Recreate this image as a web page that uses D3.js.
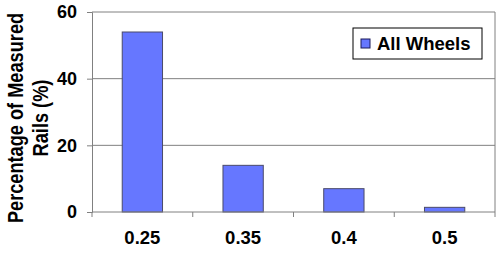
<!DOCTYPE html>
<html>
<head>
<meta charset="utf-8">
<script src="https://cdn.jsdelivr.net/npm/d3@7"></script>
<style>
  body { margin: 0; background: #fff; }
  text { font-family: Arial, "Liberation Sans", sans-serif; font-weight: bold; }
</style>
</head>
<body>
<svg id="main" width="500" height="255"></svg>
<script>
// chart values
var categories = ["0.25", "0.35", "0.4", "0.5"];
var percents = [54, 14, 7, 1.4];
var yTicks = [0, 20, 40, 60];
var seriesName = "All Wheels";

var plotLeft = 92, plotRight = 495, plotTop = 12, plotBottom = 212;

var svg = d3.select("#main");

var x = d3.scaleBand()
    .domain(categories)
    .range([plotLeft, plotRight])
    .paddingInner(0.6)
    .paddingOuter(0.3);

var y = d3.scaleLinear()
    .domain([0, 60])
    .range([plotBottom, plotTop]);

// gridlines
svg.append("g")
    .selectAll("line")
    .data(yTicks.filter(function(d) { return d > 0; }))
    .join("line")
    .attr("x1", plotLeft)
    .attr("x2", plotRight)
    .attr("y1", function(d) { return y(d); })
    .attr("y2", function(d) { return y(d); })
    .attr("stroke", "#808080")
    .attr("stroke-width", 1);

// right border
svg.append("line")
    .attr("x1", plotRight).attr("x2", plotRight)
    .attr("y1", plotTop).attr("y2", plotBottom)
    .attr("stroke", "#808080");

// bars
svg.append("g")
    .selectAll("rect")
    .data(percents)
    .join("rect")
    .attr("x", function(d, i) { return x(categories[i]); })
    .attr("y", function(d) { return y(d); })
    .attr("width", x.bandwidth())
    .attr("height", function(d) { return plotBottom - y(d); })
    .attr("fill", "#6677ff")
    .attr("stroke", "#4a4a6a")
    .attr("stroke-width", 1);

// y axis
var yAxis = svg.append("g")
    .attr("transform", "translate(" + plotLeft + ",0)")
    .call(d3.axisLeft(y).tickValues(yTicks).tickSize(5).tickPadding(10));
yAxis.select(".domain").attr("stroke", "#808080");
yAxis.selectAll(".tick line").attr("stroke", "#808080");
yAxis.selectAll(".tick text")
    .attr("font-size", "18px")
    .attr("font-family", "Arial, 'Liberation Sans', sans-serif")
    .attr("font-weight", "bold")
    .attr("fill", "#000");

// x axis with ticks between categories
var xAxis = svg.append("g")
    .attr("transform", "translate(0," + plotBottom + ")");
xAxis.append("line")
    .attr("x1", plotLeft).attr("x2", plotRight)
    .attr("stroke", "#808080");
var step = x.step();
xAxis.selectAll(".sep")
    .data(d3.range(categories.length + 1))
    .join("line")
    .attr("x1", function(i) { return plotLeft + i * step; })
    .attr("x2", function(i) { return plotLeft + i * step; })
    .attr("y1", 0).attr("y2", 5)
    .attr("stroke", "#808080");
xAxis.selectAll(".lbl")
    .data(categories)
    .join("text")
    .attr("x", function(d) { return x(d) + x.bandwidth() / 2; })
    .attr("y", 32)
    .attr("text-anchor", "middle")
    .attr("font-size", "18.5px")
    .attr("fill", "#000")
    .text(function(d) { return d; });

// y axis title (glyphs a bit wider across than along, like the original)
var title = svg.append("g")
    .attr("transform", "translate(0,118) rotate(-90) scale(1,1.18)")
    .attr("font-size", "18.2px")
    .attr("text-anchor", "middle")
    .attr("fill", "#000");
title.append("text").attr("x", 0).attr("y", 19.8).text("Percentage of Measured");
title.append("text").attr("x", 0).attr("y", 40.4).text("Rails (%)");

// legend
var legend = svg.append("g").attr("transform", "translate(353,28)");
legend.append("rect")
    .attr("width", 129).attr("height", 31)
    .attr("fill", "#fff").attr("stroke", "#000").attr("stroke-width", 1);
legend.append("rect")
    .attr("x", 8).attr("y", 11).attr("width", 9).attr("height", 9)
    .attr("fill", "#6677ff").attr("stroke", "#1a1a5a");
legend.append("text")
    .attr("x", 24).attr("y", 21.5)
    .attr("font-size", "18.5px")
    .attr("fill", "#000")
    .text(seriesName);
</script>
</body>
</html>
